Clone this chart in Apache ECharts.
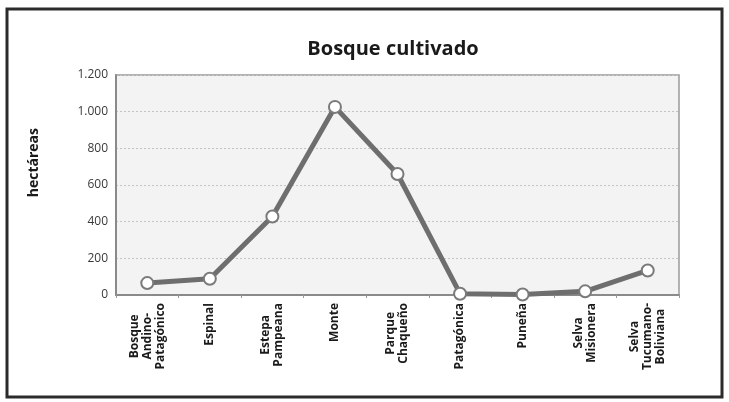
<!DOCTYPE html>
<html>
<head>
<meta charset="utf-8">
<script src="https://cdn.jsdelivr.net/npm/echarts@6/dist/echarts.min.js"></script>
<style>
html,body{margin:0;padding:0;background:#fff;}
#chart{width:729px;height:402px;}
</style>
</head>
<body>
<div id="chart"></div>
<script>
var categories = ['Bosque\nAndino-\nPatagónico','Espinal','Estepa\nPampeana','Monte','Parque\nChaqueño','Patagónica','Puneña','Selva\nMisionera','Selva\nTucumano-\nBoliviana'];
var values = [65, 89, 428, 1026, 660, 7, 3, 20, 134];
var yTicks = [0, 200, 400, 600, 800, 1000, 1200];
var titleText = 'Bosque cultivado';
var yAxisTitle = 'hectáreas';

var font = '"Open Sans", "DejaVu Sans", sans-serif';
var chart = echarts.init(document.getElementById('chart'), null, {renderer:'canvas'});
chart.setOption({
  backgroundColor:'#fff',
  animation:false,
  title:{
    text:titleText, left:388, top:34, textAlign:'center',
    textStyle:{fontFamily:font, fontWeight:'bold', fontSize:20, color:'#1a1a1a'}
  },
  graphic:[
    {type:'rect', shape:{x:7,y:9,width:715,height:388}, style:{fill:'none', stroke:'#2b2b2b', lineWidth:3}, silent:true},
    {type:'text', left:27, top:128, rotation:Math.PI/2, style:{text:yAxisTitle, font:'bold 14px '+font, fill:'#1a1a1a'}}
  ],
  grid:{left:116, right:50, top:75, bottom:107, show:true, backgroundColor:'#f3f3f3', borderColor:'#9a9a9a', borderWidth:1.5},
  xAxis:{
    type:'category', data:categories, boundaryGap:true,
    axisLine:{lineStyle:{color:'#8a8a8a', width:2}},
    axisTick:{show:true, length:3, lineStyle:{color:'#9a9a9a'}},
    axisLabel:{
      rotate:90, margin:8, interval:0,
      formatter:function(v){return v.split('\n').map(function(s){return '{c|'+s+'}';}).join('\n');},
      rich:{c:{align:'center', fontFamily:font, fontWeight:'bold', fontSize:12, color:'#1a1a1a', lineHeight:13}}
    }
  },
  yAxis:{
    type:'value', min:yTicks[0], max:yTicks[yTicks.length-1], interval:200,
    axisLine:{show:true, lineStyle:{color:'#8a8a8a', width:2}},
    axisTick:{show:false},
    splitLine:{show:true, lineStyle:{color:'#c4c4c4', type:[2,2], width:1}},
    axisLabel:{
      margin:8, fontFamily:font, fontSize:12, color:'#3a3a3a',
      formatter:function(v){return String(v).replace(/\B(?=(\d{3})+(?!\d))/g,'.');}
    }
  },
  series:[{
    type:'line', data:values,
    lineStyle:{color:'#6e6e6e', width:5},
    symbol:'circle', symbolSize:12,
    itemStyle:{color:'#ffffff', borderColor:'#7a7a7a', borderWidth:2}
  }]
});
</script>
</body>
</html>
